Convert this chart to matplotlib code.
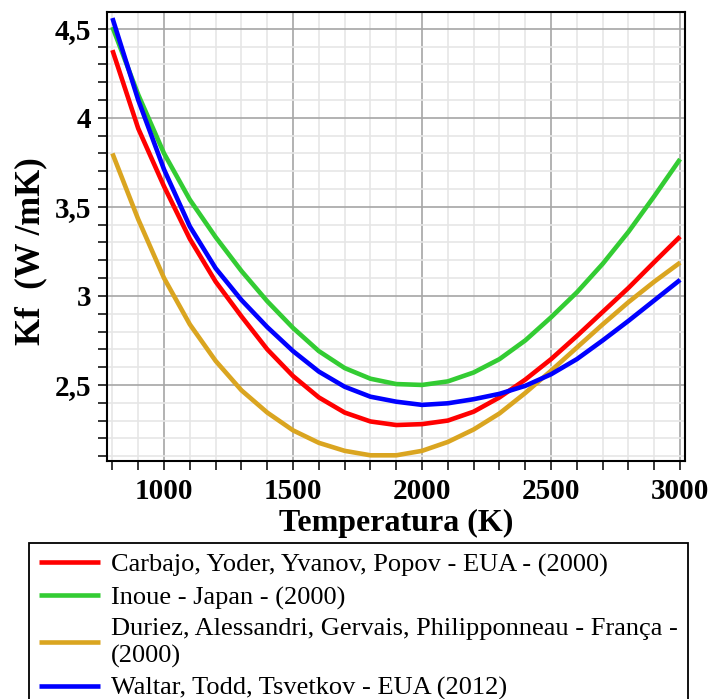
import matplotlib
matplotlib.use('Agg')
import matplotlib.pyplot as plt
from matplotlib.ticker import MultipleLocator, FuncFormatter

# temperatura (K) e condutividade termica Kf (W/mK) de cada correlacao
temperatura = [800, 900, 1000, 1100, 1200, 1300, 1400, 1500, 1600, 1700, 1800, 1900,
               2000, 2100, 2200, 2300, 2400, 2500, 2600, 2700, 2800, 2900, 3000]

kf_carbajo = [4.38, 3.94, 3.615, 3.32, 3.08, 2.885, 2.70, 2.55, 2.43, 2.345, 2.295, 2.275,
              2.28, 2.30, 2.35, 2.43, 2.53, 2.645, 2.775, 2.91, 3.045, 3.19, 3.333]
kf_inoue = [4.51, 4.13, 3.80, 3.54, 3.33, 3.14, 2.97, 2.82, 2.69, 2.595, 2.535, 2.505,
            2.50, 2.52, 2.57, 2.645, 2.75, 2.88, 3.02, 3.18, 3.36, 3.56, 3.768]
kf_duriez = [3.80, 3.43, 3.10, 2.84, 2.635, 2.47, 2.345, 2.245, 2.175, 2.13, 2.105, 2.105,
             2.13, 2.18, 2.25, 2.34, 2.455, 2.58, 2.71, 2.84, 2.965, 3.08, 3.187]
kf_waltar = [4.56, 4.10, 3.71, 3.39, 3.155, 2.977, 2.825, 2.69, 2.575, 2.49, 2.434, 2.406,
             2.388, 2.397, 2.42, 2.45, 2.495, 2.56, 2.645, 2.75, 2.86, 2.975, 3.09]

legendas = ['Carbajo, Yoder, Yvanov, Popov - EUA - (2000)',
            'Inoue - Japan - (2000)',
            'Duriez, Alessandri, Gervais, Philipponneau - França -\n(2000)',
            'Waltar, Todd, Tsvetkov - EUA (2012)']
cores = ['#ff0000', '#33cc33', '#daa520', '#0000ff']

plt.rcParams['font.family'] = ['Liberation Serif', 'DejaVu Serif']

fig = plt.figure(figsize=(7.12, 6.99), dpi=100)
ax = fig.add_axes([107 / 712, 1 - 461 / 699, (685 - 107) / 712, (461 - 12) / 699])

series = [kf_carbajo, kf_inoue, kf_duriez, kf_waltar]
linhas = []
for kf, cor, nome in zip(series, cores, legendas):
    l, = ax.plot(temperatura, kf, color=cor, lw=3.3, label=nome,
                 solid_capstyle='butt', solid_joinstyle='round', zorder=3)
    linhas.append(l)

ax.set_xlim(779, 3019)
ax.set_ylim(2.073, 4.594)

ax.xaxis.set_major_locator(MultipleLocator(500))
ax.xaxis.set_minor_locator(MultipleLocator(100))
ax.yaxis.set_major_locator(MultipleLocator(0.5))
ax.yaxis.set_minor_locator(MultipleLocator(0.1))
ax.yaxis.set_major_formatter(FuncFormatter(lambda v, p: ('%g' % v).replace('.', ',')))

ax.grid(which='major', color='#a6a6a6', lw=1.2, zorder=1)
ax.grid(which='minor', color='#e6e6e6', lw=1.2, zorder=0)
ax.set_axisbelow(True)

for s in ax.spines.values():
    s.set_linewidth(1.5)
    s.set_color('black')

ax.tick_params(which='both', direction='out', length=6.5, width=1.1, color='black')
ax.tick_params(axis='x', which='major', pad=6)
ax.tick_params(axis='y', which='major', pad=5)
for lab in ax.get_xticklabels() + ax.get_yticklabels():
    lab.set_fontsize(21)
    lab.set_fontweight('bold')

fig.text(396 / 712, 1 - 523 / 699, 'Temperatura (K)', fontsize=23, fontweight='bold',
         ha='center', va='center')
fig.text(31 / 712, 1 - 251 / 699, 'Kf  (W /mK)', fontsize=25, fontweight='bold',
         ha='center', va='center', rotation=90)

leg = fig.legend(handles=linhas, loc='upper left', bbox_to_anchor=(29 / 712, 1 - 543 / 699),
                 fontsize=19, frameon=True, fancybox=False, framealpha=1,
                 edgecolor='black', handlelength=2.3, handletextpad=0.42,
                 borderpad=0.38, labelspacing=0.33, borderaxespad=0)
leg.get_frame().set_linewidth(1.3)
for t in leg.get_texts():
    t.set_linespacing(1.25)
for h in leg.get_lines():
    h.set_linewidth(3.3)

fig.savefig('out.png', dpi=100)
